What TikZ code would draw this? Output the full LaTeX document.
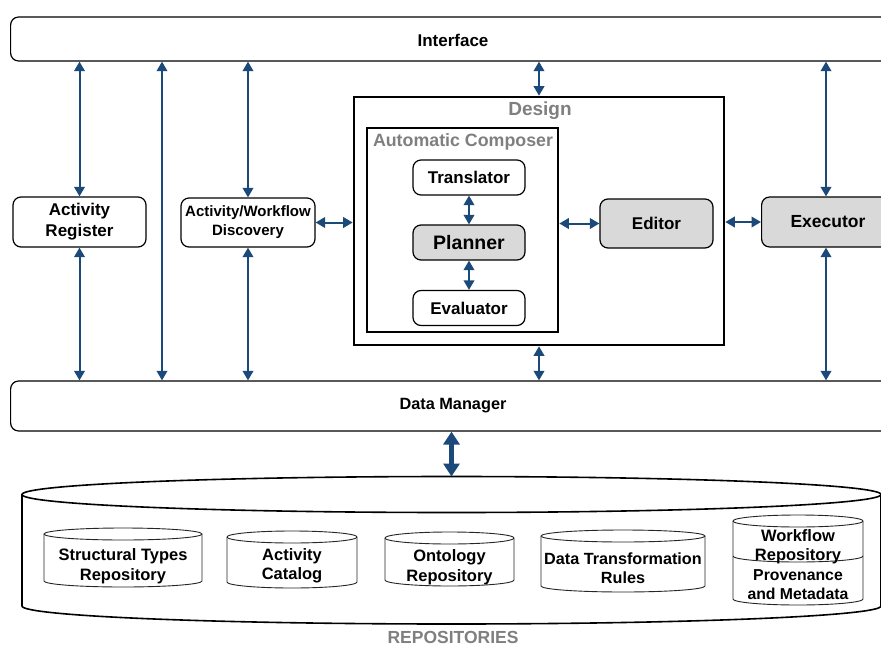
\documentclass[tikz,border=0pt]{standalone}
\usepackage{fontspec}
\setmainfont{Liberation Sans}
\usetikzlibrary{arrows.meta}

\definecolor{arrowblue}{HTML}{1B4A7A}
\definecolor{boxgrey}{HTML}{D9D9D9}
\definecolor{labelgrey}{HTML}{7F7F7F}

% drum: cx, centre y of top ellipse, centre y of bottom ellipse, x radius, y radius
\newcommand\drum[5]{%
  \draw[drumline] (#1-#4,#2) -- (#1-#4,#3)
    arc[start angle=180,end angle=360,x radius=#4pt,y radius=#5pt]
    -- (#1+#4,#2)
    arc[start angle=0,end angle=180,x radius=#4pt,y radius=#5pt] -- cycle;
  \draw[drumline] (#1-#4,#2)
    arc[start angle=180,end angle=360,x radius=#4pt,y radius=#5pt];
}

\begin{document}
\begin{tikzpicture}[x=1pt,y=-1pt,
  lab/.style={font=\bfseries\fontsize{17}{21}\selectfont, align=center, inner sep=0pt},
  drumlab/.style={font=\bfseries\fontsize{16.5}{19.5}\selectfont, align=center, inner sep=0pt},
  box/.style={draw, line width=1.2pt, rounded corners=8pt, fill=white, inner sep=0pt,
    align=center, font=\bfseries\fontsize{17}{21}\selectfont},
  greybox/.style={box, fill=boxgrey},
  frame/.style={draw, line width=2.6pt, inner sep=0pt},
  framelab/.style={font=\bfseries, text=labelgrey, inner sep=0pt},
  arr/.style={draw=arrowblue, line width=2pt,
    {Triangle[length=9.5pt,width=10.5pt]}-{Triangle[length=9.5pt,width=10.5pt]}},
  bigarr/.style={draw=arrowblue, line width=4.5pt,
    {Triangle[length=13pt,width=16pt]}-{Triangle[length=13pt,width=16pt]}},
  drumline/.style={draw=black!85, line width=0.9pt, fill=white}]

\useasboundingbox (0,0) rectangle (881,648);
\clip (0,0) rectangle (881,648);

% horizontal bars
\node[box, minimum width=885, minimum height=44, anchor=west] (iface) at (10,39) {};
\node[lab] (ifacetxt) at (453,40) {Interface};
\node[box, minimum width=885, minimum height=50, anchor=west] (dm) at (10,406) {};
\node[lab, font=\bfseries\fontsize{16.3}{19}\selectfont] (dmtxt) at (453,406) {Data Manager};

% side components
\node[box, minimum width=133, minimum height=50] (reg) at (79.5,222) {Activity\\Register};
\node[box, minimum width=134, minimum height=49, font=\bfseries\fontsize{15}{19}\selectfont]
  (disc) at (248,222.5) {Activity/Workflow\\Discovery};
\node[greybox, minimum width=130, minimum height=50, anchor=west] (exec) at (761,222) {};
\node[lab, font=\bfseries\fontsize{17.5}{21}\selectfont] (exectxt) at (828,222) {Executor};

% design frame and its contents
\node[frame, minimum width=370, minimum height=248] (design) at (539,221) {};
\node[framelab, font=\bfseries\fontsize{19}{22}\selectfont] (designtxt) at (540,111) {Design};
\node[frame, minimum width=191, minimum height=204] (ac) at (462.5,230) {};
\node[framelab, font=\bfseries\fontsize{17.8}{20}\selectfont] (actxt) at (463,142) {Automatic Composer};
\node[box, minimum width=112, minimum height=35] (trans) at (469,177.5) {Translator};
\node[greybox, minimum width=112, minimum height=35, font=\bfseries\fontsize{19.5}{22}\selectfont]
  (plan) at (469,242.5) {Planner};
\node[box, minimum width=112, minimum height=35] (eval) at (469,308) {Evaluator};
\node[greybox, minimum width=113, minimum height=49] (editor) at (656.5,223.5) {Editor};

% vertical links to the interface and the data manager
\coordinate (lx) at (162,0);
\coordinate (ex) at (826,0);
\draw[arr] (reg.north) -- (reg.north |- iface.south);
\draw[arr] (reg.south) -- (reg.south |- dm.north);
\draw[arr] (lx |- iface.south) -- (lx |- dm.north);
\draw[arr] (disc.north) -- (disc.north |- iface.south);
\draw[arr] (disc.south) -- (disc.south |- dm.north);
\draw[arr] (design.north) -- (design.north |- iface.south);
\draw[arr] (design.south) -- (design.south |- dm.north);
\draw[arr] (exec.north -| ex) -- (ex |- iface.south);
\draw[arr] (exec.south -| ex) -- (ex |- dm.north);

% horizontal links
\draw[arr] (disc.east) -- (disc.east -| design.west);
\draw[arr] (ac.east |- editor.west) -- (editor.west);
\draw[arr] (design.east |- exec.west) -- (exec.west);
\draw[arr] (trans.south) -- (plan.north);
\draw[arr] (plan.south) -- (eval.north);

% repositories store
\draw[line width=1.6pt, fill=white] (22,494.5) -- (22,606)
  arc[start angle=180,end angle=360,x radius=429.5pt,y radius=18pt]
  -- (881,494.5)
  arc[start angle=0,end angle=180,x radius=429.5pt,y radius=18pt] -- cycle;
\draw[line width=1.6pt] (22,494.5)
  arc[start angle=180,end angle=360,x radius=429.5pt,y radius=18pt];
\coordinate (storetop) at (451.5,476.5);
\draw[bigarr] (dm.south -| storetop) -- (storetop);

\drum{123}{534}{581}{79}{6}
\drum{292}{537}{582}{65}{6}
\drum{449.5}{538}{580}{64.5}{6}
\drum{623}{536}{586}{82}{6}
\drum{798}{521}{599}{65}{6}
\draw[drumline, fill=none] (733,556)
  arc[start angle=180,end angle=360,x radius=65pt,y radius=6pt];

\node[drumlab] (strt) at (123,566) {Structural Types\\Repository};
\node[drumlab] (cat) at (292,566) {Activity\\Catalog};
\node[drumlab] (onto) at (449.5,567) {Ontology\\Repository};
\node[drumlab, font=\bfseries\fontsize{16.2}{19}\selectfont] (dtr) at (623,568) {Data Transformation\\Rules};
\node[drumlab] (wfr) at (798,546.5) {Workflow\\Repository};
\node[drumlab, font=\bfseries\fontsize{15.8}{19}\selectfont] (prov) at (798,585) {Provenance\\and Metadata};
\node[framelab, font=\bfseries\fontsize{17.5}{20}\selectfont] (repo) at (453,637) {REPOSITORIES};

\end{tikzpicture}
\end{document}
